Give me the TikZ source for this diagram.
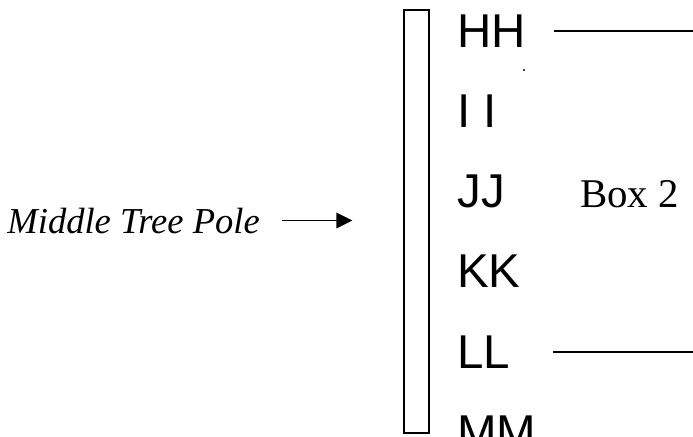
\documentclass[tikz,border=0pt]{standalone}
\usepackage{fontspec}
\setmainfont{Liberation Serif}
\newfontfamily\arialfont{Liberation Sans}
\usepackage{tikz}
\usetikzlibrary{arrows.meta,positioning}

\begin{document}
\begin{tikzpicture}[
    x=0.75pt, y=-0.75pt,
    pole/.style={rectangle, draw, line width=1.3pt, minimum width=18.75pt, minimum height=317.25pt, inner sep=0pt},
    rung/.style={anchor=base west, inner sep=0pt, font=\arialfont\fontsize{35.6}{40}\selectfont},
    boxlabel/.style={anchor=base west, inner sep=0pt, font=\fontsize{30.6}{34}\selectfont},
    polename/.style={anchor=base east, inner sep=0pt, font=\itshape\fontsize{27.4}{30}\selectfont},
    tick/.style={line width=1.3pt},
    pointer/.style={-{Triangle[length=12pt,width=11.5pt]}, line width=1.3pt},
]
    \useasboundingbox (0,0) rectangle (693,436);

    % Nodes
    \node[pole] (pole) at (416.5,221.5) {};
    \node[rung] (HH) at (457,47) {HH};
    \node[rung] (II) at (457,127) {I I};
    \node[rung] (JJ) at (457,207) {JJ};
    \node[rung] (KK) at (457,287) {KK};
    \node[rung] (LL) at (457,368) {LL};
    \node[rung] (MM) at (457,448) {MM};
    \node[boxlabel] (box) at (580,207) {Box 2};
    \node[polename] (mtp) at (260,233) {Middle Tree Pole};
    \coordinate (rightedge) at (693,0);

    % Arrows
    \draw[pointer, shorten <=16.5pt, shorten >=38pt] (mtp.east) -- (mtp.east -| pole.west);
    \draw[tick, shorten <=21pt] (HH.east) -- (HH.east -| rightedge);
    \draw[tick, shorten <=32pt] (LL.east) -- (LL.east -| rightedge);

    % stray dot
    \fill (524,70) circle (1.2);
\end{tikzpicture}
\end{document}
